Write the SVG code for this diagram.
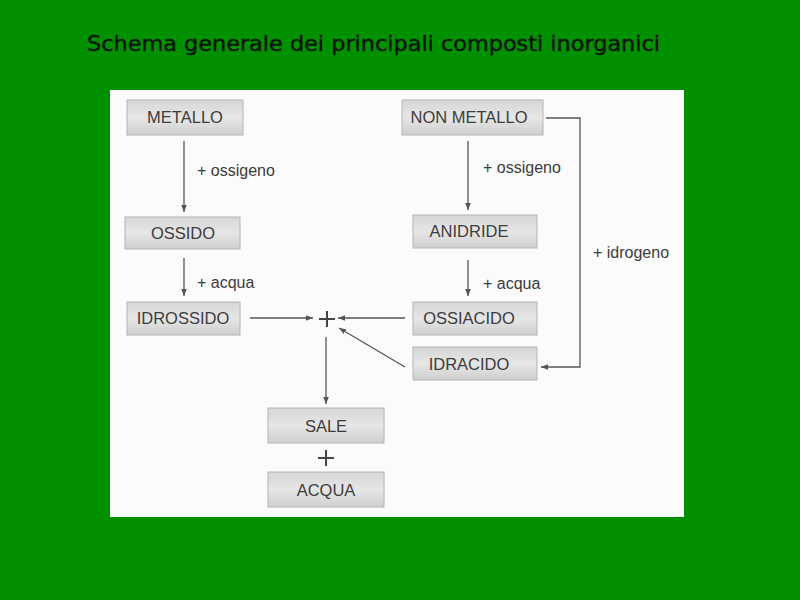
<svg xmlns="http://www.w3.org/2000/svg" width="800" height="600" viewBox="0 0 800 600">
<style>
.box{fill:url(#g);stroke:#b4b4b4;stroke-width:1}
.lbl{font-family:"Liberation Sans",Arial,sans-serif;font-size:16.5px;fill:#3c3c3c;text-anchor:middle}
.note{font-family:"Liberation Sans",Arial,sans-serif;font-size:16px;fill:#3c3c3c}
.ln{stroke:#555;stroke-width:1.3;fill:none}
.plus{stroke:#444;stroke-width:2;fill:none}
</style>
<defs>
<linearGradient id="g" x1="0" y1="0" x2="0" y2="1">
<stop offset="0" stop-color="#d6d6d6"/>
<stop offset="0.5" stop-color="#e6e6e6"/>
<stop offset="1" stop-color="#cfcfcf"/>
</linearGradient>
<marker id="a" viewBox="0 0 10 10" refX="10" refY="5" markerWidth="7" markerHeight="7" orient="auto" markerUnits="userSpaceOnUse">
<path d="M0,1 L10,5 L0,9 Z" fill="#555"/>
</marker>
</defs>
<rect width="800" height="600" fill="#009000"/>
<text x="87" y="51" font-family="'DejaVu Sans',Verdana,sans-serif" font-size="21" fill="#0a140a" stroke="#0a140a" stroke-width="0.4" textLength="573" lengthAdjust="spacingAndGlyphs">Schema generale dei principali composti inorganici</text>
<rect x="110" y="90" width="574" height="427" fill="#fbfbfb"/>

<g id="metallo"><rect class="box" x="127" y="100" width="116" height="35"/><text class="lbl" x="185" y="123">METALLO</text></g>
<g id="ossido"><rect class="box" x="125" y="217" width="115" height="32"/><text class="lbl" x="183" y="239">OSSIDO</text></g>
<g id="idrossido"><rect class="box" x="127" y="302" width="113" height="33"/><text class="lbl" x="183" y="324">IDROSSIDO</text></g>
<g id="nonmetallo"><rect class="box" x="402" y="100" width="141" height="35"/><text class="lbl" x="469" y="123">NON METALLO</text></g>
<g id="anidride"><rect class="box" x="413" y="215" width="124" height="33"/><text class="lbl" x="469" y="237">ANIDRIDE</text></g>
<g id="ossiacido"><rect class="box" x="413" y="302" width="124" height="33"/><text class="lbl" x="469" y="324">OSSIACIDO</text></g>
<g id="idracido"><rect class="box" x="413" y="347" width="124" height="33"/><text class="lbl" x="469" y="370">IDRACIDO</text></g>
<g id="sale"><rect class="box" x="268" y="408" width="116" height="35"/><text class="lbl" x="326" y="432">SALE</text></g>
<g id="acqua"><rect class="box" x="268" y="472" width="116" height="35"/><text class="lbl" x="326" y="496">ACQUA</text></g>
<g id="plus1"><path class="plus" d="M319,319 H335 M327,311 V327"/></g>
<g id="plus2"><path class="plus" d="M318,458 H334 M326,450 V466"/></g>

<g id="connectors">
<line class="ln" x1="184" y1="141" x2="184" y2="212" marker-end="url(#a)"/>
<line class="ln" x1="184" y1="258" x2="184" y2="296" marker-end="url(#a)"/>
<line class="ln" x1="250" y1="318" x2="313" y2="318" marker-end="url(#a)"/>
<line class="ln" x1="468" y1="141" x2="468" y2="210" marker-end="url(#a)"/>
<line class="ln" x1="468" y1="260" x2="468" y2="296" marker-end="url(#a)"/>
<line class="ln" x1="405" y1="318" x2="338" y2="318" marker-end="url(#a)"/>
<line class="ln" x1="405" y1="367" x2="339" y2="328" marker-end="url(#a)"/>
<polyline class="ln" points="546,118 580,118 580,367 541,367" marker-end="url(#a)"/>
<line class="ln" x1="326" y1="337" x2="326" y2="404" marker-end="url(#a)"/>
<text class="note" x="197" y="176">+ ossigeno</text>
<text class="note" x="197" y="288">+ acqua</text>
<text class="note" x="483" y="173">+ ossigeno</text>
<text class="note" x="483" y="289">+ acqua</text>
<text class="note" x="593" y="258">+ idrogeno</text>
</g>
</svg>
